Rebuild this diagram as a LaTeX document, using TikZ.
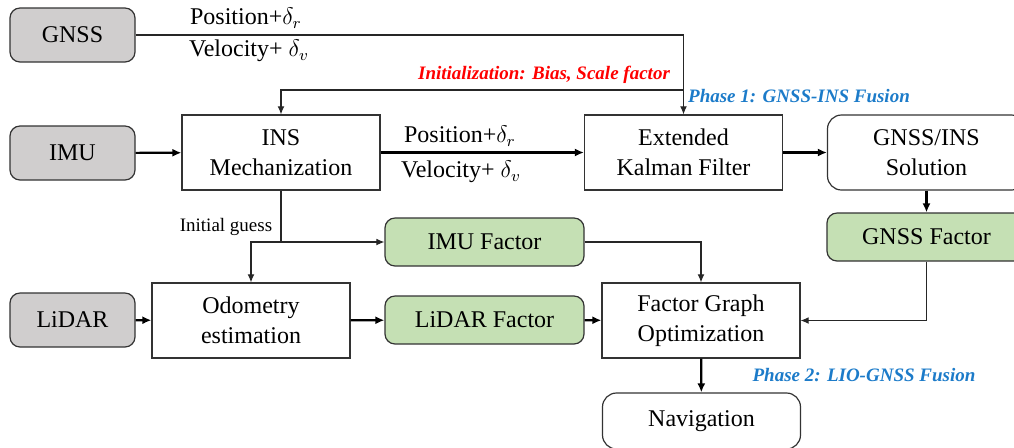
\documentclass[tikz,border=0pt]{standalone}
\usepackage{amsmath}
\usepackage{fontspec}
\setmainfont{Liberation Serif}
\usetikzlibrary{arrows.meta,shapes,positioning,calc}
\definecolor{srcgray}{HTML}{D0CECE}
\definecolor{facgreen}{HTML}{C5E0B4}
\definecolor{phaseblue}{HTML}{1C7BC9}

\begin{document}
\begin{tikzpicture}
[x=0.5pt,y=-0.5pt,
every node/.style={font=\fontsize{12}{15}\selectfont,align=center,inner sep=0pt},
S/.style={draw=black!80,line width=0.6pt,rounded corners=5pt,fill=srcgray,minimum width=62.5pt,minimum height=27pt},
B/.style={draw=black!80,line width=0.6pt,fill=white,minimum width=99pt,minimum height=37.5pt},
R/.style={B,rounded corners=7pt},
F/.style={draw=black!80,line width=0.6pt,rounded corners=5pt,fill=facgreen,minimum width=99.5pt,minimum height=24pt},
dedge/.style={black!85,line width=0.55pt,>={Latex[length=4pt,width=3.4pt]}},
myedge/.style={black,line width=1.1pt,>={Latex[length=4.5pt,width=4pt]}},
note/.style={font=\fontsize{9.5}{11}\selectfont\bfseries\itshape}]
%%
\path[use as bounding box] (0,0) rectangle (1014,447);
\clip (0,0) rectangle (1014,447);
%%
%%%%%%%%%%%%%%%%%%
% sensors
%%%%%%%%%%%%%%%%%%
\node[S] (gnss) at (72.5,35) {GNSS};
\node[S] (imu) at (72.5,153) {IMU};
\node[S] (lidar) at (72.5,320) {LiDAR};
%%
%%%%%%%%%%%%%%%%%%
% phase 1
%%%%%%%%%%%%%%%%%%
\node[B] (ins) at (281,152.5) {INS\\Mechanization};
\node[B] (ekf) at (683.5,152.5) {Extended\\Kalman Filter};
\node[R] (sol) at (926.5,152.5) {GNSS/INS\\Solution};
%%
%%%%%%%%%%%%%%%%%%
% phase 2
%%%%%%%%%%%%%%%%%%
\node[B] (odo) at (251,320.5) {Odometry\\estimation};
\node[F] (imuf) at (484.5,242) {IMU Factor};
\node[F] (lidf) at (484.5,320) {LiDAR Factor};
\node[F] (gnssf) at (926.5,237) {GNSS Factor};
\node[B] (fgo) at (701,320.5) {Factor Graph\\Optimization};
\node[R,minimum height=28pt] (nav) at (701.5,421) {Navigation};
%%
%% labels
\node (p1) at (246,18) {Position+$\delta_r$};
\node (v1) at (249,51) {Velocity+ $\delta_v$};
\node (p2) at (460,136) {Position+$\delta_r$};
\node (v2) at (461,172) {Velocity+ $\delta_v$};
\node[note,text=red] (init) at (544,75) {Initialization: Bias, Scale factor};
\node[note,text=phaseblue] (ph1) at (799,96) {Phase 1: GNSS-INS Fusion};
\node[note,text=phaseblue] (ph2) at (864,375) {Phase 2: LIO-GNSS Fusion};
\node[font=\fontsize{9.5}{11}\selectfont] (guess) at (226,227) {Initial guess};
%%
%% edges
\coordinate (initc) at (683.5,90);
\coordinate (split) at (281,242);
\draw[dedge,->] (gnss.east) -| (ekf.north);
\draw[dedge,->] (initc) -| (ins.north);
\draw[myedge,->] (imu) -- (ins);
\draw[myedge,->] (ins) -- (ekf);
\draw[myedge,->] (ekf) -- (sol);
\draw[myedge,->] (sol) -- (gnssf);
\draw[dedge] (ins.south) -- (split);
\draw[dedge,->] (split) -| (odo.north);
\draw[dedge,->] (split) -- (imuf.west);
\draw[myedge,->] (lidar) -- (odo);
\draw[myedge,->] (odo) -- (lidf);
\draw[myedge,->] (lidf) -- (fgo);
\draw[dedge,->] (imuf.east) -| (fgo.north);
\draw[dedge,->] (gnssf.south) |- (fgo.east);
\draw[myedge,->] (fgo) -- (nav);
%%
\end{tikzpicture}
\end{document}
